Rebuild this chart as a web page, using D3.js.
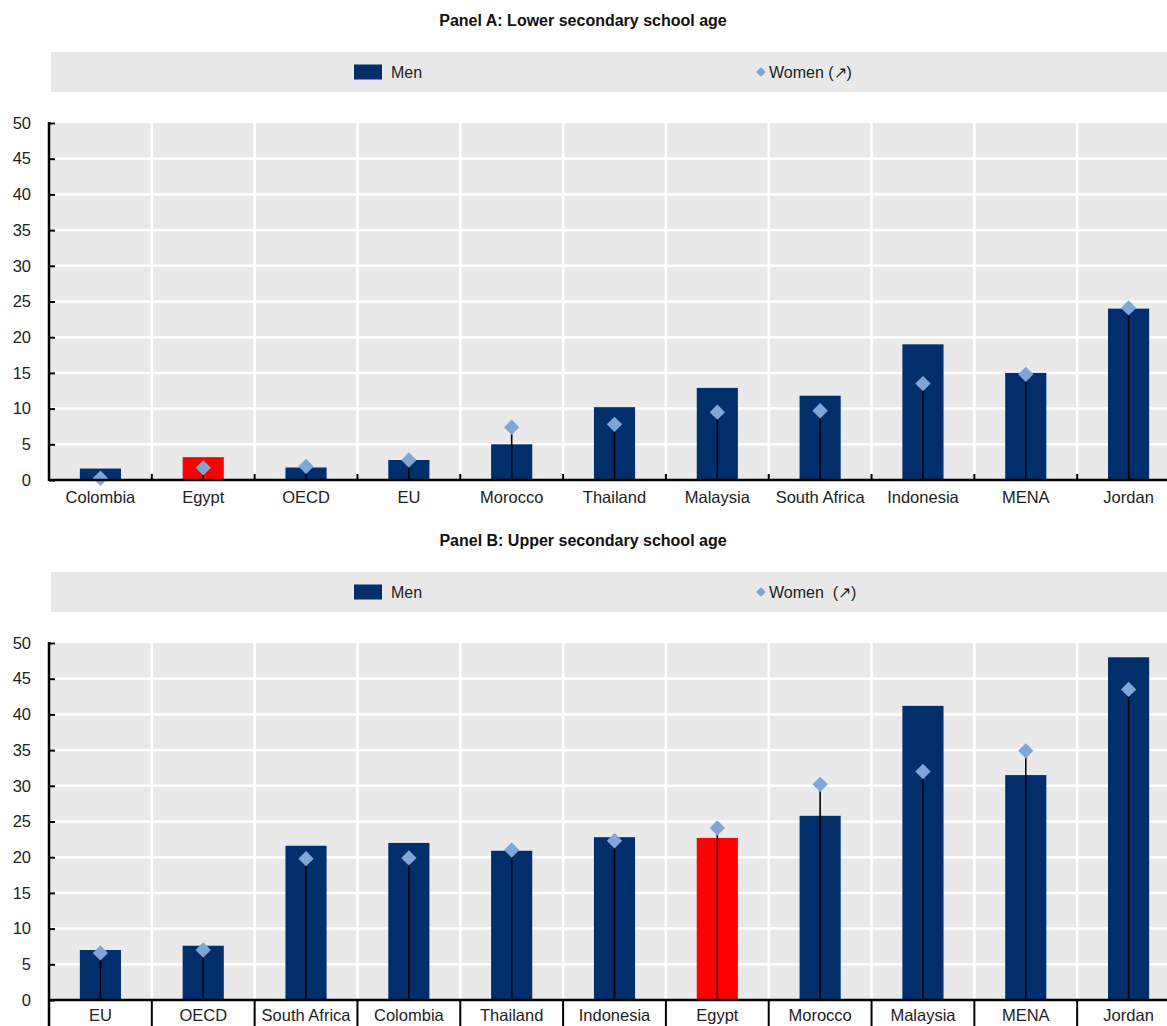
<!DOCTYPE html>
<html>
<head>
<meta charset="utf-8">
<script src="https://cdn.jsdelivr.net/npm/d3@7"></script>
<style>
  html, body { margin: 0; padding: 0; background: #fff; }
  svg { display: block; }
  text { font-family: "Liberation Sans", Arial, sans-serif; fill: #222; }
</style>
</head>
<body>
<svg id="chart" width="1167" height="1026"></svg>
<script>
// Panel A: lower secondary school age
const categoriesA = ["Colombia", "Egypt", "OECD", "EU", "Morocco", "Thailand", "Malaysia", "South Africa", "Indonesia", "MENA", "Jordan"];
const menA   = [1.6, 3.2, 1.75, 2.8, 5.0, 10.2, 12.9, 11.8, 19.0, 15.0, 24.0];
const womenA = [0.25, 1.7, 1.9, 2.8, 7.4, 7.8, 9.5, 9.7, 13.5, 14.8, 24.1];

// Panel B: upper secondary school age
const categoriesB = ["EU", "OECD", "South Africa", "Colombia", "Thailand", "Indonesia", "Egypt", "Morocco", "Malaysia", "MENA", "Jordan"];
const menB   = [7.0, 7.6, 21.6, 22.0, 20.9, 22.8, 22.7, 25.8, 41.2, 31.5, 48.0];
const womenB = [6.6, 7.0, 19.8, 19.9, 21.0, 22.3, 24.1, 30.2, 32.0, 34.9, 43.5];

const yTicks = [0, 5, 10, 15, 20, 25, 30, 35, 40, 45, 50];
const highlight = "Egypt";

const COLORS = {
  men: "#002f6c",
  highlight: "#ff0000",
  women: "#7ea6d8",
  panel: "#e9e9e9",
  grid: "#ffffff",
  axis: "#000000"
};

const svg = d3.select("#chart");
const W = 1167;
const plotLeft = 49, plotRight = 1180;

function drawPanel(top, title, cats, men, women, tableAxis) {
  const g = svg.append("g").attr("transform", `translate(0,${top})`);

  // title
  g.append("text")
    .attr("x", 583).attr("y", 26)
    .attr("text-anchor", "middle")
    .style("font-weight", "bold")
    .style("font-size", "16px")
    .style("fill", "#111")
    .text(title);

  // legend band
  g.append("rect").attr("x", 51).attr("y", 52).attr("width", W - 51).attr("height", 40).attr("fill", COLORS.panel);
  g.append("rect").attr("x", 354).attr("y", 64.5).attr("width", 28).attr("height", 15).attr("fill", COLORS.men);
  g.append("text").attr("x", 391).attr("y", 78).style("font-size", "16px").text("Men");
  const sym = d3.symbol().type(d3.symbolDiamond2).size(60);
  g.append("path").attr("d", sym()).attr("transform", "translate(761,72)").attr("fill", COLORS.women);
  g.append("text").attr("x", 769).attr("y", 78).style("font-size", "16px")
    .style("white-space", "pre").text(tableAxis ? "Women  (\u2197)" : "Women (\u2197)");

  const y0 = 480, y50 = 123;
  const x = d3.scaleBand().domain(cats).range([plotLeft, plotRight]).paddingInner(0).paddingOuter(0);
  const y = d3.scaleLinear().domain([0, 50]).range([y0, y50]);

  // plot background
  g.append("rect").attr("x", plotLeft).attr("y", y(50)).attr("width", plotRight - plotLeft).attr("height", y(0) - y(50)).attr("fill", COLORS.panel);

  // horizontal gridlines
  g.append("g").selectAll("line").data(yTicks.filter(t => t > 0 && t < 50)).join("line")
    .attr("x1", plotLeft).attr("x2", plotRight)
    .attr("y1", d => y(d)).attr("y2", d => y(d))
    .attr("stroke", COLORS.grid).attr("stroke-width", 2.5);

  // vertical gridlines at category boundaries
  g.append("g").selectAll("line").data(cats.slice(1)).join("line")
    .attr("x1", d => x(d)).attr("x2", d => x(d))
    .attr("y1", y(50)).attr("y2", y(0))
    .attr("stroke", COLORS.grid).attr("stroke-width", 2.5);

  // bars for men
  const bw = x.bandwidth() * 0.4;
  g.append("g").selectAll("rect").data(cats).join("rect")
    .attr("x", d => x(d) + (x.bandwidth() - bw) / 2)
    .attr("width", bw)
    .attr("y", (d, i) => y(men[i]))
    .attr("height", (d, i) => y(0) - y(men[i]))
    .attr("fill", d => d === highlight ? COLORS.highlight : COLORS.men);

  // drop lines for women
  g.append("g").selectAll("line").data(cats).join("line")
    .attr("x1", d => x(d) + x.bandwidth() / 2).attr("x2", d => x(d) + x.bandwidth() / 2)
    .attr("y1", y(0)).attr("y2", (d, i) => y(women[i]))
    .attr("stroke", "#000").attr("stroke-width", 1.6);

  // women markers
  const dsym = d3.symbol().type(d3.symbolDiamond2).size(150);
  g.append("g").selectAll("path").data(cats).join("path")
    .attr("d", dsym())
    .attr("transform", (d, i) => `translate(${x(d) + x.bandwidth() / 2},${y(women[i])})`)
    .attr("fill", COLORS.women);

  // y axis
  const yAxis = d3.axisLeft(y).tickValues(yTicks).tickSize(-6).tickPadding(18);
  const ya = g.append("g").attr("transform", `translate(${plotLeft},0)`).call(yAxis);
  ya.select(".domain").remove();
  ya.selectAll(".tick line").attr("stroke", COLORS.axis).attr("stroke-width", 2);
  ya.selectAll(".tick text").style("font-size", "16.5px").style("font-family", "Liberation Sans, Arial, sans-serif").attr("fill", "#222");
  g.append("line").attr("x1", plotLeft).attr("x2", plotLeft)
    .attr("y1", y(50) - 1).attr("y2", tableAxis ? 1026 - top + 5 : y(0) + 1)
    .attr("stroke", COLORS.axis).attr("stroke-width", 2.5);

  // x axis
  const xAxis = d3.axisBottom(x).tickSize(0).tickPadding(tableAxis ? 9 : 11);
  const xa = g.append("g").attr("transform", `translate(0,${y(0)})`).call(xAxis);
  xa.select(".domain").remove();
  xa.selectAll(".tick text").style("font-size", "16.5px").style("font-family", "Liberation Sans, Arial, sans-serif").attr("fill", "#222");
  g.append("line").attr("x1", plotLeft).attr("x2", plotRight)
    .attr("y1", y(0)).attr("y2", y(0))
    .attr("stroke", COLORS.axis).attr("stroke-width", 2.5);

  // category boundary ticks
  g.append("g").selectAll("line").data(cats.slice(1)).join("line")
    .attr("x1", d => x(d)).attr("x2", d => x(d))
    .attr("y1", tableAxis ? y(0) : y(0) - 6)
    .attr("y2", tableAxis ? 1026 - top + 5 : y(0))
    .attr("stroke", COLORS.axis).attr("stroke-width", 2);
}

drawPanel(0, "Panel A: Lower secondary school age", categoriesA, menA, womenA, false);
drawPanel(520, "Panel B: Upper secondary school age", categoriesB, menB, womenB, true);
</script>
</body>
</html>
